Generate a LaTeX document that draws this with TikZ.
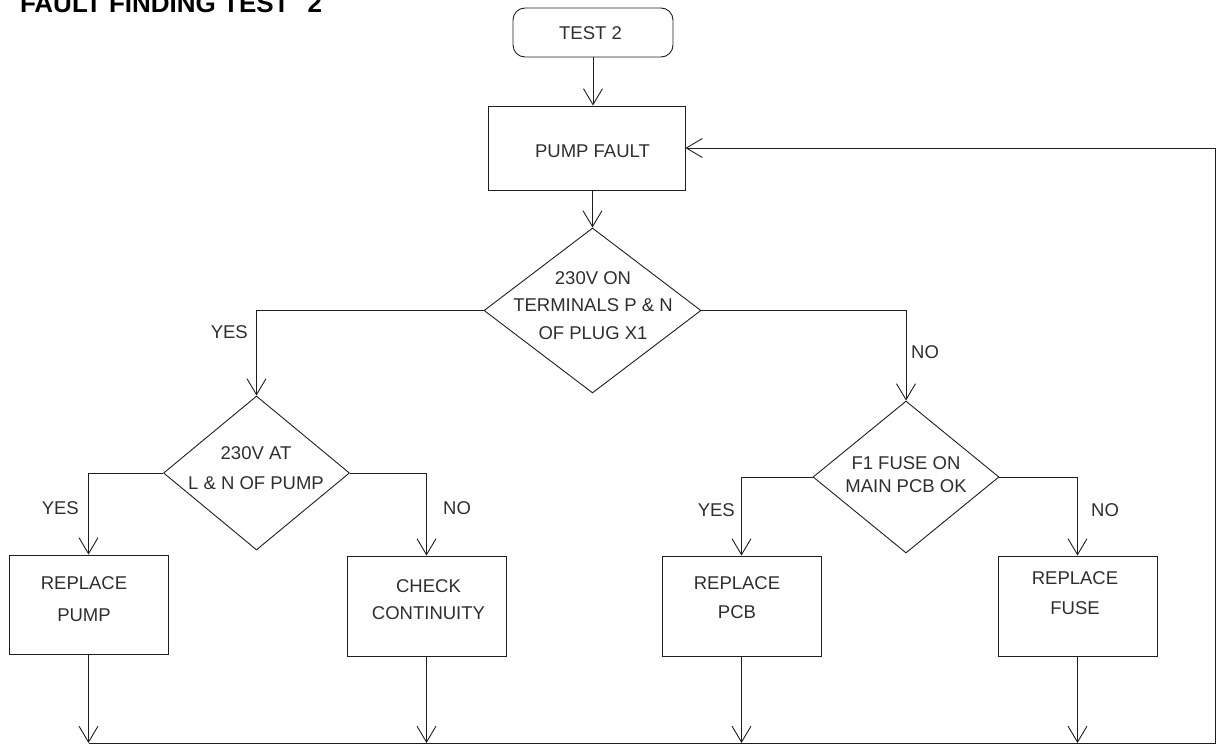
\documentclass[tikz,border=0pt]{standalone}
\usepackage{fontspec}
\setmainfont{Liberation Sans}
\usetikzlibrary{arrows.meta,shapes.geometric,calc}
\definecolor{ln}{HTML}{1E1E1E}
\definecolor{tx}{HTML}{2E2E2E}
\begin{document}
\begin{tikzpicture}[x=1pt,y=-1pt,
  box/.style={draw=ln, line width=0.9pt, inner sep=0pt, minimum width=159pt, minimum height=100pt},
  rbox/.style={draw=ln, line width=0.9pt, inner sep=0pt, rounded corners=12pt, minimum width=160pt, minimum height=49pt},
  dia/.style={draw=ln, line width=0.9pt, diamond, inner sep=0pt, aspect=1},
  txt/.style={text=tx, inner sep=0pt, align=center, font=\fontsize{18.5}{28}\selectfont},
  lbl/.style={text=tx, inner sep=0pt, font=\fontsize{18.5}{22}\selectfont},
  arr/.style={draw=ln, line width=0.9pt, -{Straight Barb[length=16pt,width=19pt]}},
  con/.style={draw=ln, line width=0.9pt}]
\useasboundingbox (0,0) rectangle (1216,744);

% title
\node[anchor=base west, inner sep=0pt, font=\fontsize{26}{26}\bfseries\selectfont] (title) at (19.8,12.3) {FAULT FINDING TEST\hspace{18pt}2};

% start and first box
\node[rbox] (start) at (593,32.5) {};
\node[txt] (startt) at (590.5,33) {TEST 2};
\node[box, minimum width=197pt, minimum height=84pt] (pf) at (586.5,148) {};
\node[txt] (pft) at (592.5,151.7) {PUMP FAULT};

% decisions
\node[dia, minimum width=217pt, minimum height=165pt] (d1) at (592.5,310.5) {};
\node[txt, font=\fontsize{18.5}{27.5}\selectfont] (d1t) at (593,305.5) {230V ON\\TERMINALS P \& N\\OF PLUG X1};
\node[dia, minimum width=186pt, minimum height=154pt] (d2) at (256.5,473) {};
\node[txt, font=\fontsize{18.5}{30}\selectfont] (d2t) at (256,468) {230V AT\\L \& N OF PUMP};
\node[dia, minimum width=186pt, minimum height=152pt] (d3) at (906,477) {};
\node[txt, font=\fontsize{18.5}{23}\selectfont] (d3t) at (906,474.5) {F1 FUSE ON\\MAIN PCB OK};

% action boxes
\node[box, minimum height=99pt] (rp) at (88.5,604.5) {};
\node[txt, font=\fontsize{18.5}{32}\selectfont] (rpt) at (84,599) {REPLACE\\PUMP};
\node[box] (cc) at (426.5,606) {};
\node[txt, font=\fontsize{18.5}{27}\selectfont] (cct) at (428.5,599.5) {CHECK\\CONTINUITY};
\node[box] (rpcb) at (741.5,606) {};
\node[txt, font=\fontsize{18.5}{29}\selectfont] (rpcbt) at (737,597.5) {REPLACE\\PCB};
\node[box] (rf) at (1077.5,606) {};
\node[txt, font=\fontsize{18.5}{30}\selectfont] (rft) at (1075,593) {REPLACE\\FUSE};

% connectors
\draw[arr] (start.south) -- (start.south |- pf.north);
\draw[arr] (pf.south -| d1.north) -- (d1.north);
\draw[arr] (d1.west) -| (d2.north);
\draw[arr] (d1.east) -| (d3.north);
\draw[arr] (d2.west) -| (rp.north);
\draw[arr] (d2.east) -| (cc.north);
\draw[arr] (d3.west) -| (rpcb.north);
\draw[arr] (d3.east) -| (rf.north);

\coordinate (br) at (1215,743);
\draw[arr] (rp.south) -- (rp.south |- br);
\draw[arr] (cc.south) -- (cc.south |- br);
\draw[arr] (rpcb.south) -- (rpcb.south |- br);
\draw[arr] (rf.south) -- (rf.south |- br);
\draw[arr] (rp.south |- br) -- (br) |- (pf.east);

% labels
\node[lbl, anchor=east] (y1) at (248,332) {YES};
\node[lbl, anchor=west] (n1) at (911,352) {NO};
\node[lbl, anchor=east] (y2) at (79,508) {YES};
\node[lbl, anchor=west] (n2) at (443,508) {NO};
\node[lbl, anchor=east] (y3) at (735,510) {YES};
\node[lbl, anchor=west] (n3) at (1091,510) {NO};
\end{tikzpicture}
\end{document}
